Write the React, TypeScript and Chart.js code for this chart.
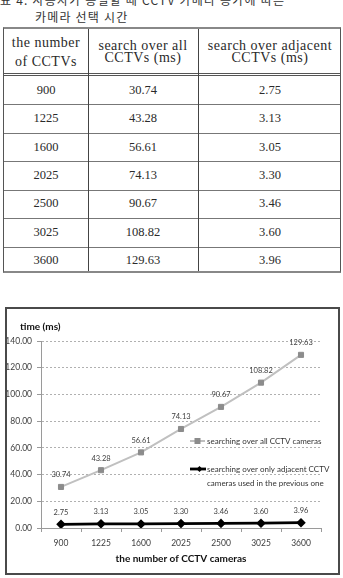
import React, { useEffect, useRef } from "react";
import { Chart, registerables } from "chart.js";

Chart.register(...registerables);

const cameraCounts = ["900", "1225", "1600", "2025", "2500", "3025", "3600"];
const searchAllMs = [30.74, 43.28, 56.61, 74.13, 90.67, 108.82, 129.63];
const searchAdjacentMs = [2.75, 3.13, 3.05, 3.3, 3.46, 3.6, 3.96];
const yMin = 0;
const yMax = 140;
const yStep = 20;

const captionLines = ["표 4. 사용자가 동일할 때 CCTV 카메라 증가에 따른", "카메라 선택 시간"];
const tableHeaders = [
  ["the number", "of CCTVs"],
  ["search over all", "CCTVs (ms)"],
  ["search over adjacent", "CCTVs (ms)"],
];
const legendLines = [
  ["searching over all CCTV cameras"],
  ["searching over only adjacent CCTV", "cameras used in the previous one"],
];
const yAxisTitle = "time (ms)";
const xAxisTitle = "the number of CCTV cameras";

const FONT = "Lato, 'Open Sans', sans-serif";
const SERIF = "'Liberation Serif', 'DejaVu Serif', serif";

const overlayPlugin = {
  id: "overlay",
  afterDatasetsDraw(chart: any) {
    const ctx = chart.ctx as CanvasRenderingContext2D;
    const ca = chart.chartArea;
    ctx.save();
    // data labels
    ctx.font = `7.5px ${FONT}`;
    ctx.fillStyle = "#404040";
    ctx.textAlign = "center";
    ctx.textBaseline = "middle";
    chart.data.datasets.forEach((ds: any, di: number) => {
      const meta = chart.getDatasetMeta(di);
      meta.data.forEach((pt: any, i: number) => {
        ctx.fillText((ds.data[i] as number).toFixed(2), pt.x, pt.y - 12);
      });
    });
    // y axis title
    ctx.font = `bold 10px ${FONT}`;
    ctx.fillStyle = "#111";
    ctx.textAlign = "left";
    ctx.fillText(yAxisTitle, ca.left - 21, ca.top - 14);

    // legend
    const lx0 = ca.left + 149;
    const lx1 = ca.left + 164;
    const tx = ca.left + 166;
    const y1 = ca.top + 100;
    const y2 = ca.top + 128;
    ctx.font = `8px ${FONT}`;
    // item 1
    ctx.strokeStyle = "#bfbfbf";
    ctx.lineWidth = 2;
    ctx.beginPath();
    ctx.moveTo(lx0, y1);
    ctx.lineTo(lx1, y1);
    ctx.stroke();
    ctx.fillStyle = "#8c8c8c";
    ctx.fillRect((lx0 + lx1) / 2 - 3, y1 - 3, 6, 6);
    ctx.fillStyle = "#333";
    ctx.fillText(legendLines[0][0], tx, y1);
    // item 2
    ctx.strokeStyle = "#000";
    ctx.lineWidth = 2.8;
    ctx.beginPath();
    ctx.moveTo(lx0, y2);
    ctx.lineTo(lx1 + 1, y2);
    ctx.stroke();
    const cx = (lx0 + lx1) / 2 + 2;
    ctx.fillStyle = "#000";
    ctx.beginPath();
    ctx.moveTo(cx, y2 - 3);
    ctx.lineTo(cx + 3, y2);
    ctx.lineTo(cx, y2 + 3);
    ctx.lineTo(cx - 3, y2);
    ctx.closePath();
    ctx.fill();
    ctx.fillStyle = "#333";
    legendLines[1].forEach((t, i) => ctx.fillText(t, tx, y2 + i * 14));
    ctx.restore();
  },
};

function ChartBox() {
  const ref = useRef<HTMLCanvasElement>(null);
  useEffect(() => {
    const chart = new Chart(ref.current!, {
      type: "line",
      data: {
        labels: cameraCounts,
        datasets: [
          {
            label: legendLines[0].join(" "),
            data: searchAllMs,
            borderColor: "#c0c0c0",
            borderWidth: 2,
            pointStyle: "rect",
            pointRadius: 3.6,
            pointBorderWidth: 1,
            pointBackgroundColor: "#8c8c8c",
            pointBorderColor: "#8c8c8c",
            tension: 0,
          },
          {
            label: legendLines[1].join(" "),
            data: searchAdjacentMs,
            borderColor: "#000",
            borderWidth: 2.8,
            pointStyle: "rectRot",
            pointRadius: 2.8,
            pointBackgroundColor: "#000",
            pointBorderColor: "#000",
            tension: 0,
          },
        ],
      },
      options: {
        animation: false,
        responsive: false,
        events: [],
        layout: { padding: { top: 32, right: 18, left: 0, bottom: 8 } },
        plugins: { legend: { display: false }, tooltip: { enabled: false } },
        scales: {
          x: {
            offset: true,
            grid: {
              offset: true,
              drawOnChartArea: false,
              drawTicks: true,
              tickLength: 4,
              color: "#9a9a9a",
            },
            border: { display: true, color: "#9a9a9a", width: 1 },
            ticks: { color: "#404040", font: { family: FONT, size: 8.5 }, padding: 6, autoSkip: false, maxRotation: 0 },
            title: {
              display: true,
              text: xAxisTitle,
              color: "#111",
              font: { family: FONT, size: 10, weight: "bold" },
              padding: 0,
            },
            afterFit: (s: any) => {
              s.height = 37;
            },
          },
          y: {
            min: yMin,
            max: yMax,
            ticks: {
              stepSize: yStep,
              color: "#404040",
              font: { family: FONT, size: 8.5 },
              padding: 5,
              callback: (v: any) => Number(v).toFixed(2),
            },
            grid: { color: "#b0b0b0", tickLength: 4, tickColor: "#9a9a9a" },
            border: { display: true, color: "#9a9a9a", width: 1, dash: [2, 2] },
            afterFit: (s: any) => {
              s.width = 35;
            },
          },
        },
      },
      plugins: [overlayPlugin],
    } as any);
    return () => chart.destroy();
  }, []);
  return (
    <canvas
      ref={ref}
      width={333}
      height={264}
      style={{ position: "absolute", left: 6, top: 309, width: 333, height: 264 }}
    />
  );
}

const ROW_H = 28.43;

export default function App() {
  const colW = [84, 110, 144];
  const colX = [0, 84, 194];
  const headerH = 45;
  const rows = cameraCounts.map((c, i) => [c, searchAllMs[i].toFixed(2), searchAdjacentMs[i].toFixed(2)]);
  return (
    <div style={{ position: "absolute", left: 0, top: 0, width: 343, height: 578, background: "#fff", overflow: "hidden" }}>
      <div
        style={{
          position: "absolute",
          left: 0,
          top: -9,
          fontFamily: "'Noto Sans CJK KR', sans-serif",
          fontSize: 12,
          lineHeight: "17px",
          letterSpacing: "1.2px",
          color: "#333",
          whiteSpace: "nowrap",
        }}
      >
        <div>{captionLines[0]}</div>
        <div style={{ paddingLeft: 35 }}>{captionLines[1]}</div>
      </div>

      <div
        style={{
          position: "absolute",
          left: 3,
          top: 27,
          width: 338,
          height: headerH + 2 + ROW_H * rows.length,
          borderTop: "2px solid #888",
          borderBottom: "2px solid #888",
          borderLeft: "1px solid #555",
          borderRight: "1px solid #555",
          boxSizing: "border-box",
          color: "#2a2a2a",
        }}
      >
        {tableHeaders.map((h, ci) => (
          <div
            key={"h" + ci}
            style={{
              position: "absolute",
              left: colX[ci],
              top: 0,
              width: colW[ci],
              height: headerH,
              display: "flex",
              flexDirection: "column",
              justifyContent: "center",
              alignItems: "center",
              fontFamily: SERIF,
              fontSize: 14,
              letterSpacing: "0.5px",
              lineHeight: ci === 0 ? "19px" : "12px",
              paddingTop: ci === 0 ? 1 : 0,
              boxSizing: "border-box",
            }}
          >
            {h.map((t, k) => (
              <div key={k} style={{ whiteSpace: "nowrap" }}>{t}</div>
            ))}
          </div>
        ))}
        <div style={{ position: "absolute", left: 0, right: 0, top: headerH - 1, height: 3, borderTop: "1px solid #555", borderBottom: "1px solid #555", boxSizing: "border-box" }} />
        {rows.map((r, ri) => (
          <React.Fragment key={"r" + ri}>
            {r.map((t, ci) => (
              <div
                key={ci}
                style={{
                  position: "absolute",
                  left: colX[ci],
                  top: headerH + 2 + ri * ROW_H,
                  width: colW[ci],
                  height: ROW_H,
                  display: "flex",
                  alignItems: "center",
                  justifyContent: "center",
                  fontFamily: SERIF,
                  fontSize: 12.5,
                }}
              >
                {t}
              </div>
            ))}
            {ri < rows.length - 1 && (
              <div style={{ position: "absolute", left: 0, right: 0, top: headerH + 2 + (ri + 1) * ROW_H, height: 1, background: "#777" }} />
            )}
          </React.Fragment>
        ))}
        {[1, 2].map((ci) => (
          <div key={"v" + ci} style={{ position: "absolute", left: colX[ci], top: 0, bottom: 0, width: 1, background: "#444" }} />
        ))}
      </div>

      <ChartBox />
      <div
        style={{
          position: "absolute",
          left: 5,
          top: 307,
          width: 335,
          height: 268,
          border: "2px solid #4a4a4a",
          boxSizing: "border-box",
          pointerEvents: "none",
        }}
      />
    </div>
  );
}
